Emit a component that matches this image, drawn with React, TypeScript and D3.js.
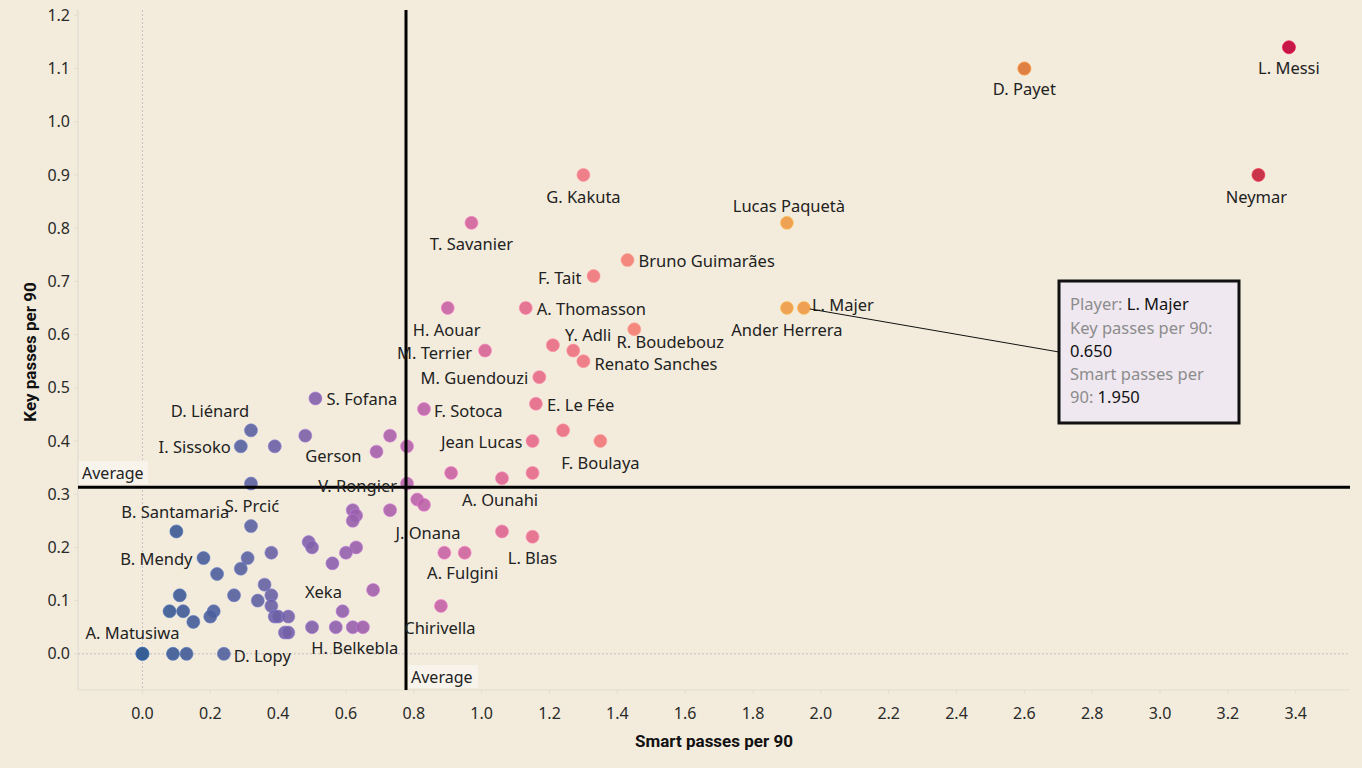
import React from "react";
import * as d3 from "d3";

// ---- Data ----
const players = [
  "L. Messi", "D. Payet", "D. Payet*", "Neymar", "G. Kakuta", "Lucas Paquetà", "T. Savanier", "Bruno Guimarães",
  "F. Tait", "A. Thomasson", "H. Aouar", "L. Majer", "Ander Herrera", "R. Boudebouz", "", "Y. Adli",
  "M. Terrier", "Renato Sanches", "M. Guendouzi", "S. Fofana", "E. Le Fée", "F. Sotoca", "", "D. Liénard",
  "", "", "Jean Lucas", "F. Boulaya", "I. Sissoko", "", "", "Gerson",
  "", "", "A. Ounahi", "", "V. Rongier", "", "J. Onana", "",
  "", "", "", "S. Prcić", "B. Santamaria", "", "L. Blas", "",
  "", "", "", "", "", "A. Fulgini", "B. Mendy", "",
  "Xeka", "", "", "", "", "", "", "",
  "", "", "Chirivella", "", "", "", "", "",
  "", "", "", "", "", "", "H. Belkebla", "",
  "", "", "A. Matusiwa", "A. Matusiwa*", "", "", "D. Lopy",
];
const smartPasses = [
  3.38, 2.60, 2.60, 3.29, 1.30, 1.90, 0.97, 1.43,
  1.33, 1.13, 0.90, 1.95, 1.90, 1.45, 1.21, 1.27,
  1.01, 1.30, 1.17, 0.51, 1.16, 0.83, 1.24, 0.32,
  0.48, 0.73, 1.15, 1.35, 0.29, 0.39, 0.78, 0.69,
  0.91, 1.15, 1.06, 0.32, 0.78, 0.81, 0.83, 0.62,
  0.73, 0.63, 0.62, 0.32, 0.10, 1.06, 1.15, 0.49,
  0.50, 0.63, 0.60, 0.38, 0.89, 0.95, 0.18, 0.31,
  0.56, 0.29, 0.22, 0.36, 0.68, 0.11, 0.27, 0.38,
  0.34, 0.38, 0.88, 0.08, 0.12, 0.21, 0.59, 0.20,
  0.39, 0.40, 0.43, 0.15, 0.50, 0.57, 0.62, 0.65,
  0.42, 0.43, 0.00, 0.00, 0.09, 0.13, 0.24,
];
const keyPasses = [
  1.14, 1.10, 1.10, 0.90, 0.90, 0.81, 0.81, 0.74,
  0.71, 0.65, 0.65, 0.65, 0.65, 0.61, 0.58, 0.57,
  0.57, 0.55, 0.52, 0.48, 0.47, 0.46, 0.42, 0.42,
  0.41, 0.41, 0.40, 0.40, 0.39, 0.39, 0.39, 0.38,
  0.34, 0.34, 0.33, 0.32, 0.32, 0.29, 0.28, 0.27,
  0.27, 0.26, 0.25, 0.24, 0.23, 0.23, 0.22, 0.21,
  0.20, 0.20, 0.19, 0.19, 0.19, 0.19, 0.18, 0.18,
  0.17, 0.16, 0.15, 0.13, 0.12, 0.11, 0.11, 0.11,
  0.10, 0.09, 0.09, 0.08, 0.08, 0.08, 0.08, 0.07,
  0.07, 0.07, 0.07, 0.06, 0.05, 0.05, 0.05, 0.05,
  0.04, 0.04, 0.00, 0.00, 0.00, 0.00, 0.00,
];
const xTicks = [0.0, 0.2, 0.4, 0.6, 0.8, 1.0, 1.2, 1.4, 1.6, 1.8, 2.0, 2.2, 2.4, 2.6, 2.8, 3.0, 3.2, 3.4];
const yTicks = [0.0, 0.1, 0.2, 0.3, 0.4, 0.5, 0.6, 0.7, 0.8, 0.9, 1.0, 1.1, 1.2];
const avgSmart = 0.777;
const avgKey = 0.313;
const tooltipPlayer = "L. Majer";
const tooltipKey = "0.650";
const tooltipSmart = "1.950";

// color stops by smart passes
const colorStops = [0, 0.3, 0.55, 0.85, 1.1, 1.4, 1.9, 2.6, 3.3];
const colorRange = ["#2c5690", "#5862a0", "#8a5fad", "#c062a8", "#e1668c", "#f47a76", "#ef9a45", "#dd7a3c", "#c41e3a"];

// label placement: [anchor, dx, dy]
const labelLayout: Record<string, [string, number, number]> = {
  "L. Messi": ["middle", 0, 21],
  "D. Payet": ["middle", 0, 21],
  "Neymar": ["middle", -2, 22],
  "G. Kakuta": ["middle", 0, 22],
  "Lucas Paquetà": ["middle", 2, -17],
  "T. Savanier": ["middle", 0, 21],
  "Bruno Guimarães": ["start", 11, 1],
  "F. Tait": ["end", -12, 2],
  "A. Thomasson": ["start", 11, 1],
  "H. Aouar": ["middle", -1, 22],
  "L. Majer": ["start", 8, -3],
  "Ander Herrera": ["middle", 0, 22],
  "Y. Adli": ["middle", 15, -15],
  "R. Boudebouz": ["middle", 36, 13],
  "Renato Sanches": ["start", 11, 3],
  "M. Terrier": ["end", -13, 3],
  "M. Guendouzi": ["end", -11, 1],
  "E. Le Fée": ["start", 11, 1],
  "F. Sotoca": ["start", 10, 2],
  "S. Fofana": ["start", 11, 1],
  "D. Liénard": ["middle", -41, -19],
  "I. Sissoko": ["end", -10, 1],
  "Gerson": ["end", -15, 5],
  "Jean Lucas": ["end", -10, 1],
  "F. Boulaya": ["middle", 0, 22],
  "V. Rongier": ["end", -10, 3],
  "A. Ounahi": ["middle", -2, 22],
  "B. Santamaria": ["middle", -1, -19],
  "S. Prcić": ["middle", 1, -20],
  "J. Onana": ["middle", 4, 28],
  "L. Blas": ["middle", 0, 21],
  "A. Fulgini": ["middle", -2, 21],
  "B. Mendy": ["end", -11, 1],
  "Xeka": ["middle", -9, 29],
  "Chirivella": ["middle", -1, 22],
  "H. Belkebla": ["middle", 2, 21],
  "A. Matusiwa": ["middle", -10, -21],
  "D. Lopy": ["start", 10, 2],
};

const W = 1362;
const H = 768;
const BG = "#f3ecdc";
const FONT = "'Noto Sans', 'Open Sans', sans-serif";

export default function App() {
  const x = d3.scaleLinear().domain([-0.19, 3.56]).range([78, 1350]);
  const y = d3.scaleLinear().domain([-0.068, 1.21]).range([690, 10]);
  const color = d3
    .scaleLinear<string>()
    .domain(colorStops)
    .range(colorRange)
    .interpolate(d3.interpolateLab);

  const data = players.map((name, i) => ({
    name: name.replace("*", ""),
    dup: name.endsWith("*"),
    sx: smartPasses[i],
    ky: keyPasses[i],
  }));

  const [x0, x1] = x.range();
  const [yb, yt] = y.range();
  const majer = data.find((d) => d.name === tooltipPlayer)!;
  const tipX = 1059, tipY = 281, tipW = 180, tipH = 142;

  return (
    <svg
      width={W}
      height={H}
      style={{ position: "absolute", left: 0, top: 0, display: "block", background: BG }}
      fontFamily={FONT}
    >
      <rect x={0} y={0} width={W} height={H} fill={BG} />

      {/* axis lines */}
      <line x1={x0} x2={x0} y1={yt} y2={yb} stroke="#e2ddd3" strokeWidth={1.2} />
      <line x1={x0} x2={x1} y1={yb} y2={yb} stroke="#e2ddd3" strokeWidth={1.2} />
      {/* zero lines */}
      <line x1={x(0)} x2={x(0)} y1={yt} y2={yb} stroke="#c9c0c6" strokeDasharray="2,2" strokeWidth={1} />
      <line x1={x0} x2={x1} y1={y(0)} y2={y(0)} stroke="#c9c0c6" strokeDasharray="2,2" strokeWidth={1} />

      {/* x ticks */}
      {xTicks.map((t) => (
        <g key={"xt" + t}>
          <line x1={x(t)} x2={x(t)} y1={yb} y2={yb + 4} stroke="#e2ddd3" />
          <text x={x(t)} y={yb + 23} dy="0.35em" textAnchor="middle" fontSize={16} fill="#2a2a2a">
            {d3.format(".1f")(t)}
          </text>
        </g>
      ))}
      {/* y ticks */}
      {yTicks.map((t) => (
        <g key={"yt" + t}>
          <line x1={x0 - 4} x2={x0} y1={y(t)} y2={y(t)} stroke="#e2ddd3" />
          <text x={x0 - 8} y={y(t)} dy="0.35em" textAnchor="end" fontSize={16} fill="#2a2a2a">
            {d3.format(".1f")(t)}
          </text>
        </g>
      ))}

      {/* axis titles */}
      <text x={714} y={741} dy="0.35em" textAnchor="middle" fontSize={17} fontWeight={700} fontFamily="Roboto, sans-serif" fill="#111">
        Smart passes per 90
      </text>
      <text
        transform={`translate(30,352) rotate(-90)`}
        dy="0.35em"
        textAnchor="middle"
        fontSize={17}
        fontWeight={700}
        fontFamily="Roboto, sans-serif"
        fill="#111"
      >
        Key passes per 90
      </text>

      {/* points */}
      {data.map((d, i) => {
        const c = color(d.sx);
        return (
          <circle
            key={"p" + i}
            cx={x(d.sx)}
            cy={y(d.ky)}
            r={6.5}
            fill={c}
            fillOpacity={d.dup ? 0.45 : 0.9}
            stroke={d3.color(c)!.brighter(0.7).formatHex()}
            strokeOpacity={0.6}
            strokeWidth={1}
          />
        );
      })}

      {/* average lines */}
      <line x1={x(avgSmart)} x2={x(avgSmart)} y1={yt} y2={yb} stroke="#000" strokeWidth={3} />
      <line x1={x0} x2={x1} y1={y(avgKey)} y2={y(avgKey)} stroke="#000" strokeWidth={3} />

      {/* labels */}
      {data
        .filter((d) => d.name && !d.dup && labelLayout[d.name])
        .map((d, i) => {
          const [anchor, dx, dy] = labelLayout[d.name];
          return (
            <text
              key={"l" + i}
              x={x(d.sx) + dx}
              y={y(d.ky) + dy}
              dy="0.35em"
              textAnchor={anchor}
              fontSize={16.5}
              fill="#222"
            >
              {d.name}
            </text>
          );
        })}

      {/* average labels */}
      <rect x={x0 + 1} y={y(avgKey) - 26} width={69} height={23} fill="#f8f4ec" />
      <text x={x0 + 4} y={y(avgKey) - 14} dy="0.35em" fontSize={16} fill="#222">
        Average
      </text>
      <rect x={x(avgSmart) + 2} y={yb - 25} width={70} height={23} fill="#f8f4ec" />
      <text x={x(avgSmart) + 5} y={yb - 13} dy="0.35em" fontSize={16} fill="#222">
        Average
      </text>

      {/* tooltip */}
      <line x1={x(majer.sx) + 6} x2={tipX} y1={y(majer.ky) + 1} y2={tipY + 71} stroke="#111" strokeWidth={1} />
      <rect x={tipX} y={tipY} width={tipW} height={tipH} fill="#efe8f0" stroke="#111" strokeWidth={3} />
      <g fontSize={16.5}>
        <text x={tipX + 11} y={tipY + 23} dy="0.35em">
          <tspan fill="#8c8c8c">Player: </tspan>
          <tspan fill="#111">{tooltipPlayer}</tspan>
        </text>
        <text x={tipX + 11} y={tipY + 47} dy="0.35em" fill="#8c8c8c">
          Key passes per 90:
        </text>
        <text x={tipX + 11} y={tipY + 70} dy="0.35em" fill="#111">
          {tooltipKey}
        </text>
        <text x={tipX + 11} y={tipY + 93} dy="0.35em" fill="#8c8c8c">
          Smart passes per
        </text>
        <text x={tipX + 11} y={tipY + 116} dy="0.35em">
          <tspan fill="#8c8c8c">90: </tspan>
          <tspan fill="#111">{tooltipSmart}</tspan>
        </text>
      </g>
    </svg>
  );
}
